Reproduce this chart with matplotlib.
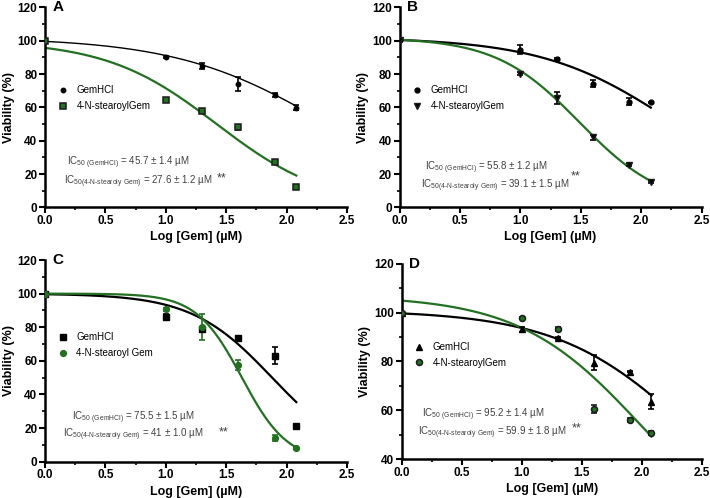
import numpy as np
import matplotlib
matplotlib.use("Agg")
import matplotlib.pyplot as plt
from matplotlib.ticker import MultipleLocator, FormatStrFormatter

plt.rcParams["font.family"] = ["Liberation Sans", "DejaVu Sans"]
plt.rcParams["mathtext.fontset"] = "custom"
plt.rcParams["mathtext.rm"] = "Liberation Sans"

GREEN = "#237023"
TEXT_GREY = "#404040"

# ── Data ──────────────────────────────────────────────────────────────
LOG_DOSE = [0.0, 1.0, 1.3, 1.6, 1.9, 2.08]

A_GEM = [100, 90.3, 84.8, 74.0, 67.4, 59.9]
A_GEM_ERR = [0, 0.6, 1.7, 4.0, 1.2, 1.5]
A_STE = [100, 64.4, 57.8, 48.0, 27.4, 12.4]
A_STE_ERR = [0, 0.8, 0.8, 1.6, 1.2, 0.8]

B_GEM = [100.5, 94.6, 89.0, 74.3, 63.4, 63.0]
B_GEM_ERR = [0, 2.8, 0.5, 2.0, 2.0, 0.5]
B_STE = [100.5, 80.3, 65.5, 42.2, 25.7, 15.1]
B_STE_ERR = [0, 0.8, 3.5, 1.5, 0.8, 0.8]

C_GEM = [100, 86.3, 78.8, 73.4, 63.1, 21.3]
C_GEM_ERR = [0, 1.5, 1.5, 0.5, 4.9, 0.5]
C_STE = [100, 90.7, 80.0, 57.6, 13.9, 8.0]
C_STE_ERR = [0, 0.8, 7.7, 3.0, 1.8, 0.5]

D_GEM = [100, 93.2, 89.5, 79.5, 75.9, 63.6]
D_GEM_ERR = [0, 1.0, 0.5, 3.0, 0.3, 3.0]
D_STE = [100, 97.8, 93.3, 60.6, 56.1, 50.9]
D_STE_ERR = [0, 0.5, 1.0, 1.5, 0.8, 0.8]

# fitted dose-response parameters: (top, logIC50, hill slope)
A_GEM_FIT = (102, 2.32, 0.70)
A_STE_FIT = (100, 1.42, 0.95)
B_GEM_FIT = (102, 2.27, 0.80)
B_STE_FIT = (102, 1.49, 1.25)
C_GEM_FIT = (100, 1.88, 1.30)
C_STE_FIT = (100, 1.63, 2.30)
D_GEM_FIT = (101, 2.44, 0.77)
D_STE_FIT = (107, 2.00, 0.85)

IC50_TEXT = {
    "A": ("45.7 ± 1.4", "27.6 ± 1.2"),
    "B": ("55.8 ± 1.2", "39.1 ± 1.5"),
    "C": ("75.5 ± 1.5", "41 ± 1.0"),
    "D": ("95.2 ± 1.4", "59.9 ± 1.8"),
}


def hill(x, top, logic50, slope):
    return top / (1 + 10 ** ((x - logic50) * slope))


def style_axes(ax, ymin):
    ax.set_xlim(0, 2.5)
    ax.set_ylim(ymin, 120)
    ax.spines["top"].set_visible(False)
    ax.spines["right"].set_visible(False)
    for s in ("left", "bottom"):
        ax.spines[s].set_linewidth(1.8)
    ax.xaxis.set_major_locator(MultipleLocator(0.5))
    ax.xaxis.set_minor_locator(MultipleLocator(0.25))
    ax.xaxis.set_major_formatter(FormatStrFormatter("%.1f"))
    ax.yaxis.set_major_locator(MultipleLocator(20))
    ax.yaxis.set_minor_locator(MultipleLocator(10))
    ax.tick_params(which="major", length=4, width=1.5, labelsize=8.5, pad=1.5)
    ax.tick_params(which="minor", length=2.5, width=1.2)
    for lab in ax.get_xticklabels() + ax.get_yticklabels():
        lab.set_fontweight("bold")
    ax.set_xlabel("Log [Gem] (µM)", fontsize=9, fontweight="bold", labelpad=3)
    ax.set_ylabel("Viability (%)", fontsize=9, fontweight="bold", labelpad=2)


def draw_panel(ax, letter, ymin, gem, gem_err, ste, ste_err, gem_fit, ste_fit,
               gem_style, ste_style, ste_label, ste_err_color,
               txt_x, txt_y, star_xy, leg_anchor):
    xs = np.linspace(0, 2.08, 200)
    ax.plot(xs, hill(xs, *gem_fit), color="black", lw=1.6 if letter != "A" else 1.0, zorder=2)
    ax.plot(xs, hill(xs, *ste_fit), color=GREEN, lw=1.6, zorder=2)

    ax.errorbar(LOG_DOSE, gem, yerr=gem_err, fmt="none", ecolor="black",
                elinewidth=1.2, capsize=2.5, capthick=1.2, zorder=3)
    ax.errorbar(LOG_DOSE, ste, yerr=ste_err, fmt="none", ecolor=ste_err_color,
                elinewidth=1.2, capsize=2.5, capthick=1.2, zorder=3)
    h1, = ax.plot(LOG_DOSE, gem, ls="none", label="GemHCl", zorder=4, **gem_style)
    h2, = ax.plot(LOG_DOSE, ste, ls="none", label=ste_label, zorder=4, **ste_style)

    style_axes(ax, ymin)
    ax.text(0.025, 1.0, letter, transform=ax.transAxes, fontsize=11,
            fontweight="bold", va="center", ha="left")

    ax.legend(handles=[h1, h2], loc="upper left", bbox_to_anchor=leg_anchor,
              frameon=False, fontsize=7, handlelength=1.0, handletextpad=0.9,
              labelspacing=0.6, borderaxespad=0)

    gem_ic, ste_ic = IC50_TEXT[letter]
    ax.text(txt_x[0], txt_y[0], r"IC$_{50\ \mathrm{(GemHCl)}}$ = " + gem_ic + " µM",
            fontsize=7, color=TEXT_GREY)
    ax.text(txt_x[1], txt_y[1], r"IC$_{50\mathrm{(4\text{-}N\text{-}stearoly\ Gem)}}$ = " + ste_ic + " µM",
            fontsize=7, color=TEXT_GREY)
    ax.text(star_xy[0], star_xy[1], "**", fontsize=9, color=TEXT_GREY)


fig = plt.figure(figsize=(7.1, 4.98), dpi=100)
ax_a = fig.add_axes([0.0634, 0.5837, 0.4254, 0.4014])
ax_b = fig.add_axes([0.5627, 0.5837, 0.4254, 0.4014])
ax_c = fig.add_axes([0.0634, 0.0729, 0.4254, 0.4050])
ax_d = fig.add_axes([0.5655, 0.0777, 0.4232, 0.3928])

black_dot = dict(marker="o", ms=3.2, mfc="black", mec="black")
green_sq = dict(marker="s", ms=4.2, mfc=GREEN, mec="#1a1a1a", mew=1.1)

draw_panel(ax_a, "A", 0, A_GEM, A_GEM_ERR, A_STE, A_STE_ERR, A_GEM_FIT, A_STE_FIT,
           black_dot, green_sq, "4-N-stearoylGem", "#1a1a1a",
           (0.18, 0.16), (25.0, 14.0), (1.42, 15.5), (0.03, 0.63))

draw_panel(ax_b, "B", 0, B_GEM, B_GEM_ERR, B_STE, B_STE_ERR, B_GEM_FIT, B_STE_FIT,
           dict(marker="o", ms=3.5, mfc="black", mec="black"),
           dict(marker="v", ms=4.5, mfc="black", mec="#1a1a1a"),
           "4-N-stearoylGem", "black",
           (0.21, 0.18), (22.5, 11.5), (1.42, 17.0), (0.03, 0.63))

draw_panel(ax_c, "C", 0, C_GEM, C_GEM_ERR, C_STE, C_STE_ERR, C_GEM_FIT, C_STE_FIT,
           dict(marker="s", ms=3.8, mfc="black", mec="black"),
           dict(marker="o", ms=4.2, mfc=GREEN, mec=GREEN),
           "4-N-stearoyl Gem", GREEN,
           (0.22, 0.15), (24.5, 14.5), (1.44, 15.5), (0.03, 0.66))

draw_panel(ax_d, "D", 40, D_GEM, D_GEM_ERR, D_STE, D_STE_ERR, D_GEM_FIT, D_STE_FIT,
           dict(marker="^", ms=3.8, mfc="black", mec="black"),
           dict(marker="o", ms=4.3, mfc=GREEN, mec="#1a1a1a", mew=1.1),
           "4-N-stearoylGem", "#1a1a1a",
           (0.17, 0.14), (57.3, 49.8), (1.42, 51.5), (0.03, 0.62))

fig.savefig("out.png", dpi=100)
